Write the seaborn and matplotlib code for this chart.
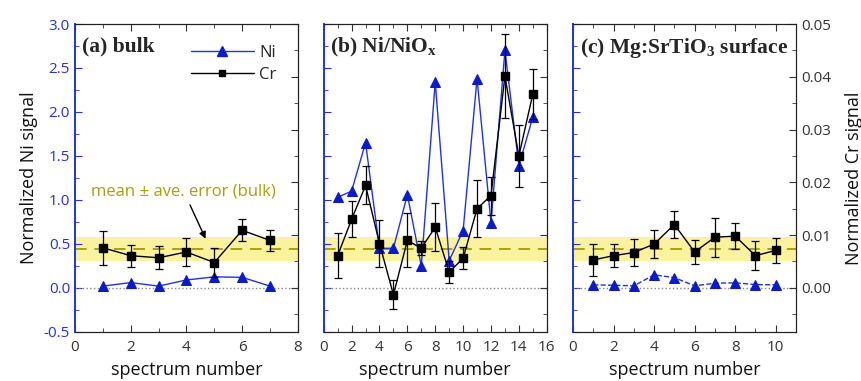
import matplotlib
matplotlib.use("Agg")
import matplotlib.pyplot as plt
import seaborn as sns
from matplotlib.lines import Line2D
from matplotlib.ticker import MultipleLocator

sns.set_style("ticks")
plt.rcParams["font.family"] = ["Open Sans", "DejaVu Sans"]
plt.rcParams["mathtext.fontset"] = "custom"
plt.rcParams["mathtext.rm"] = "Liberation Serif"
plt.rcParams["mathtext.bf"] = "Liberation Serif:bold"

# Panel (a) bulk
spec_a = [1, 2, 3, 4, 5, 6, 7]
ni_a = [0.02, 0.06, 0.02, 0.09, 0.125, 0.12, 0.02]
cr_a = [0.0076, 0.0061, 0.0057, 0.0068, 0.0048, 0.0109, 0.0090]
cr_err_a = [0.0032, 0.0021, 0.0022, 0.0027, 0.0028, 0.0021, 0.0020]

# Panel (b) Ni/NiOx
spec_b = list(range(1, 16))
ni_b = [1.03, 1.10, 1.65, 0.45, 0.45, 1.06, 0.25, 2.34, 0.31, 0.65,
        2.38, 0.74, 2.70, 1.39, 1.94]
cr_b = [0.0061, 0.0130, 0.0194, 0.0084, -0.0013, 0.0090, 0.0075, 0.0115,
        0.0030, 0.0056, 0.0150, 0.0175, 0.0401, 0.0250, 0.0367]
cr_err_b = [0.0043, 0.0034, 0.0036, 0.0044, 0.0027, 0.0051, 0.0013, 0.0045,
            0.0020, 0.0021, 0.0054, 0.0036, 0.0080, 0.0059, 0.0047]

# Panel (c) Mg:SrTiO3 surface
spec_c = list(range(1, 11))
ni_c = [0.034, 0.030, 0.023, 0.148, 0.117, 0.023, 0.053, 0.057, 0.038, 0.034]
cr_c = [0.0053, 0.0061, 0.0067, 0.0083, 0.0120, 0.0068, 0.0096, 0.0098,
        0.0061, 0.0071]
cr_err_c = [0.0031, 0.0022, 0.0025, 0.0026, 0.0025, 0.0023, 0.0037, 0.0024,
            0.0027, 0.0023]

# bulk mean +/- average error (Cr units)
bulk_mean = 0.0073
bulk_err = 0.0023

titles = ["(a) bulk", r"(b) Ni/NiO$_\mathbf{x}$", r"(c) Mg:SrTiO$_\mathbf{3}$ surface"]
xmax = [8, 16, 11]
ni_style = ["-", "-", "--"]

blue = "#2233dd"
tri_blue = "#0a1acc"
olive = "#a89f10"
band = "#fbf2a0"
tick_gray = "#333333"

fig = plt.figure(figsize=(8.61, 3.81), dpi=100)
lefts = [0.087, 0.376, 0.6655]
w, h, b0 = 0.259, 0.808, 0.129

panels = [(spec_a, ni_a, cr_a, cr_err_a), (spec_b, ni_b, cr_b, cr_err_b),
          (spec_c, ni_c, cr_c, cr_err_c)]

for i, (x, ni, cr, crerr) in enumerate(panels):
    ax = fig.add_axes([lefts[i], b0, w, h])
    ax2 = ax.twinx()
    ax.set_xlim(0, xmax[i])
    ax.set_ylim(-0.5, 3.0)
    ax2.set_ylim(-0.05 / 6, 0.05)

    # band + mean line drawn on lower axes in Cr coordinates
    ax.fill_between([0, xmax[i]], [bulk_mean - bulk_err] * 2, [bulk_mean + bulk_err] * 2,
                    color=band, lw=0, transform=ax2.transData, zorder=0)
    ax.plot([0, xmax[i]], [bulk_mean] * 2, color=olive, ls=(0, (6, 4)), lw=1.4,
            transform=ax2.transData, zorder=1)
    ax.axhline(0, color="#888888", ls=":", lw=1.0, zorder=1)

    sns.lineplot(x=x, y=ni, ax=ax, color=blue, lw=1.0, marker="^", markersize=7.5,
                 markerfacecolor=tri_blue, markeredgecolor=tri_blue,
                 linestyle=ni_style[i], zorder=3)
    ax2.errorbar(x, cr, yerr=crerr, color="black", lw=1.0, marker="s", markersize=6,
                 capsize=3, elinewidth=0.9, capthick=0.9, zorder=4)

    # ticks
    ax.xaxis.set_major_locator(MultipleLocator(2))
    ax.xaxis.set_minor_locator(MultipleLocator(1))
    ax.yaxis.set_major_locator(MultipleLocator(0.5))
    ax.yaxis.set_minor_locator(MultipleLocator(0.25))
    ax2.yaxis.set_major_locator(MultipleLocator(0.01))
    ax2.yaxis.set_minor_locator(MultipleLocator(0.005))
    ax.tick_params(axis="x", which="both", direction="in", top=True, labelsize=11,
                   colors=tick_gray, pad=6)
    ax.tick_params(axis="x", which="major", length=5)
    ax.tick_params(axis="x", which="minor", length=3)
    ax.tick_params(axis="y", which="both", direction="in", colors=blue, labelsize=11)
    ax.tick_params(axis="y", which="major", length=5)
    ax.tick_params(axis="y", which="minor", length=3)
    ax2.tick_params(axis="y", which="both", direction="in", colors=tick_gray, labelsize=11)
    ax2.tick_params(axis="y", which="major", length=5)
    ax2.tick_params(axis="y", which="minor", length=3)
    ax.yaxis.set_major_formatter(plt.FuncFormatter(lambda v, p: f"{v:.1f}"))
    ax2.yaxis.set_major_formatter(plt.FuncFormatter(lambda v, p: f"{v:.2f}"))

    for s in ["top", "right", "bottom"]:
        ax.spines[s].set_color("#222222")
        ax2.spines[s].set_color("#222222")
    ax2.spines["left"].set_visible(False)
    ax.spines["left"].set_color(blue)
    ax.spines["left"].set_linewidth(1.4)

    if i > 0:
        ax.set_yticklabels([])
    if i < 2:
        ax2.set_yticklabels([])

    ax.set_xlabel("spectrum number", fontsize=13, color="#111111", labelpad=4)
    ax.set_ylabel("")

    ax.text(0.03, 0.96, titles[i], transform=ax.transAxes, ha="left", va="top",
            fontsize=15.5, fontweight="bold", family="Liberation Serif", zorder=6)

    if i == 0:
        ax.set_ylabel("Normalized Ni signal", fontsize=13, color="#111111", labelpad=4)
        handles = [Line2D([], [], color=blue, marker="^", markersize=7.5,
                          markerfacecolor=tri_blue, markeredgecolor=tri_blue, lw=1.0),
                   Line2D([], [], color="black", marker="s", markersize=5, lw=1.0)]
        ax.legend(handles, ["Ni", "Cr"], loc="upper right", frameon=False,
                  fontsize=12, handlelength=3.8, bbox_to_anchor=(0.97, 0.98),
                  labelspacing=0.35, handletextpad=0.3)
        ax.annotate("mean ± ave. error (bulk)", xy=(4.73, 0.53), xytext=(3.9, 1.1),
                    ha="center", va="center", fontsize=12, color=olive,
                    arrowprops=dict(arrowstyle="-|>", color="black", lw=1.0,
                                    mutation_scale=10), zorder=6)
    if i == 2:
        ax2.set_ylabel("Normalized Cr signal", fontsize=13, color="#111111",
                       rotation=90, labelpad=10)

fig.savefig("out.png", dpi=100)
